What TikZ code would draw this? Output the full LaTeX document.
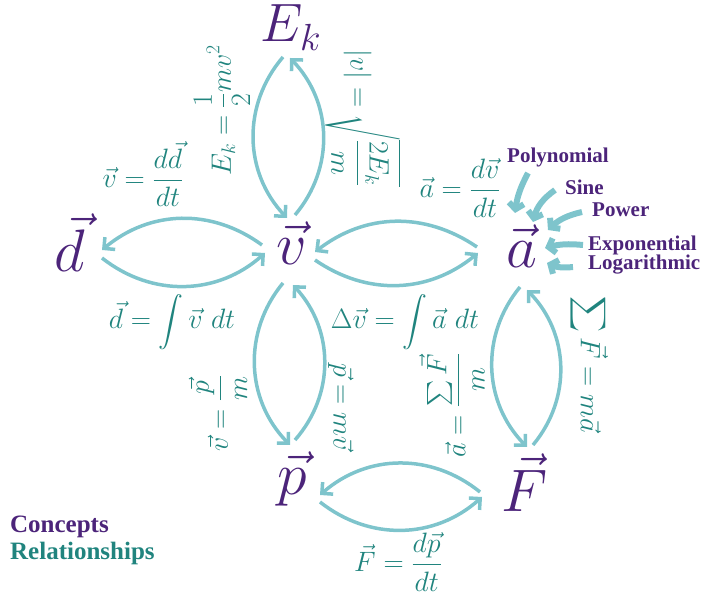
\RequirePackage{fix-cm}
\documentclass[tikz,border=0pt]{standalone}
\usepackage{fontspec}
\newfontfamily\labelfont{Liberation Serif}
\usepackage{amsmath}
\usetikzlibrary{arrows.meta}
\definecolor{conceptc}{RGB}{76,36,122}
\definecolor{relc}{RGB}{32,132,126}
\definecolor{arcc}{RGB}{126,196,204}

\begin{document}
\begin{tikzpicture}[
    x=1pt, y=1pt,
    concept/.style={text=conceptc, font=\fontsize{60}{60}\selectfont, inner sep=0pt, anchor=base},
    relation/.style={text=relc, font=\fontsize{28}{32}\selectfont, inner sep=1pt},
    func/.style={text=conceptc, font=\labelfont\bfseries\fontsize{21}{24}\selectfont, inner sep=0pt, anchor=west},
    legend/.style={font=\labelfont\bfseries\fontsize{25}{28}\selectfont, inner sep=0pt, anchor=west},
    link/.style={draw=arcc, line width=3.5pt, -{Straight Barb[length=8pt,width=16pt]}},
    pull/.style={draw=arcc, line width=6pt, -{Straight Barb[length=6pt,width=15pt]}},
]
\useasboundingbox (0,0) rectangle (702,597);

% concepts
\node[concept, font=\fontsize{54}{54}\selectfont] (ek) at (291,555) {$E_k$};
\node[concept] (v) at (292,332) {$\vec{v}$};
\node[concept] (d) at (70,325) {$\vec{d}$};
\node[concept] (a) at (522,329) {$\vec{a}$};
\node[concept] (p) at (292,102) {$\vec{p}$};
\node[concept] (F) at (525,85) {$\vec{F}$};

% relationships
\node[relation] (vdd) at (143,423) {$\displaystyle\vec{v} = \frac{d\vec{d}}{dt}$};
\node[relation] (dint) at (172,275) {$\displaystyle\vec{d} = \int \vec{v}\ dt$};
\node[relation, rotate=90] (ekeq) at (222,487) {$\displaystyle E_k = \frac{1}{2}mv^2$};
\node[relation, rotate=-90] (vabs) at (363,479) {$\displaystyle |v| = \sqrt{\frac{2E_k}{m}}$};
\node[relation] (adv) at (460,409) {$\displaystyle\vec{a} = \frac{d\vec{v}}{dt}$};
\node[relation] (dvint) at (405,275) {$\displaystyle\Delta\vec{v} = \int \vec{a}\ dt$};
\node[relation, rotate=90] (vpm) at (218,184) {$\displaystyle\vec{v} = \frac{\vec{p}}{m}$};
\node[relation, rotate=-90] (pmv) at (341,190) {$\vec{p} = m\vec{v}$};
\node[relation, rotate=90] (asum) at (452,192) {$\displaystyle\vec{a} = \frac{\sum\vec{F}}{m}$};
\node[relation, rotate=-90] (sumf) at (588,232) {$\displaystyle\sum\vec{F} = m\vec{a}$};
\node[relation] (fdp) at (398,35) {$\displaystyle\vec{F} = \frac{d\vec{p}}{dt}$};

% kinds of acceleration
\node[func] (poly) at (507,440) {Polynomial};
\node[func] (sine) at (565,410) {Sine};
\node[func] (power) at (592,387) {Power};
\node[func] (expo) at (588,352) {Exponential};
\node[func] (loga) at (588,332) {Logarithmic};

% legend
\node[legend, text=conceptc] (concepts) at (10,70) {Concepts};
\node[legend, text=relc] (relations) at (10,44) {Relationships};

% E_k and v
\draw[link] ([shift={(-8,-15)}]ek.base) to[bend right=42] ([shift={(-5,47)}]v.base);
\draw[link] ([shift={(3,50)}]v.base) to[bend right=42] ([shift={(-1,-16)}]ek.base);
% d and v
\draw[link] ([shift={(-30,20)}]v.base) to[bend right=38] ([shift={(32,22)}]d.base);
\draw[link] ([shift={(32,14)}]d.base) to[bend right=40] ([shift={(-27,12)}]v.base);
% v and a
\draw[link] ([shift={(-45,21)}]a.base) to[bend right=36] ([shift={(23,13)}]v.base);
\draw[link] ([shift={(23,5)}]v.base) to[bend right=37] ([shift={(-44,15)}]a.base);
% v and p
\draw[link] ([shift={(-9,-18)}]v.base) to[bend right=42] ([shift={(-2,50)}]p.base);
\draw[link] ([shift={(3,55)}]p.base) to[bend right=42] ([shift={(1,-20)}]v.base);
% a and F
\draw[link] ([shift={(-2,-19)}]a.base) to[bend right=42] ([shift={(2,65)}]F.base);
\draw[link] ([shift={(8,67)}]F.base) to[bend right=42] ([shift={(5,-22)}]a.base);
% p and F
\draw[link] ([shift={(-45,20)}]F.base) to[bend right=40] ([shift={(28,0)}]p.base);
\draw[link] ([shift={(28,-7)}]p.base) to[bend right=40] ([shift={(-43,15)}]F.base);

% functions into a
\draw[pull] ([shift={(21,-16)}]poly.west) to[bend right=10] ([shift={(-7,55)}]a.base);
\draw[pull] ([shift={(-10,-3)}]sine.west) to[bend right=20] ([shift={(11,46)}]a.base);
\draw[pull] ([shift={(-10,-2)}]power.west) to[bend right=15] ([shift={(26,38)}]a.base);
\draw[pull] ([shift={(-5,0)}]expo.west) to[bend right=10] ([shift={(23,20)}]a.base);
\draw[pull] ([shift={(-15,-2)}]loga.west) to[bend left=15] ([shift={(25,5)}]a.base);

\end{tikzpicture}
\end{document}
